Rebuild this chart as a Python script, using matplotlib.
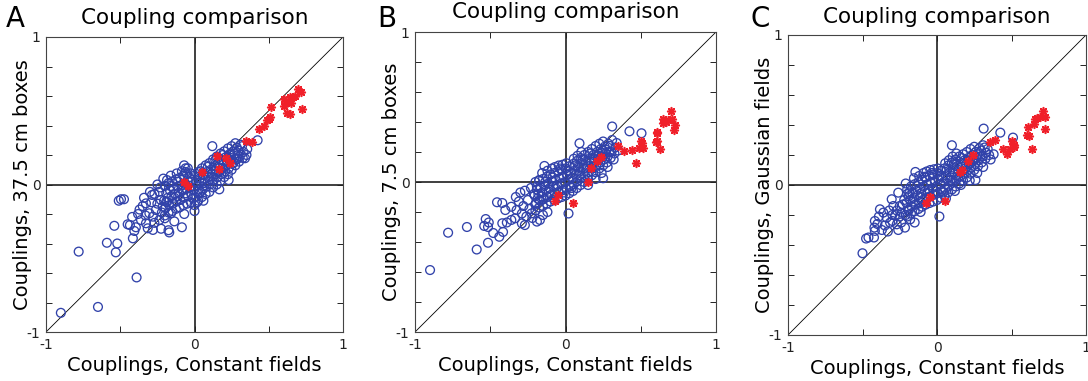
import matplotlib
matplotlib.use('Agg')
import matplotlib.pyplot as plt

# ---- data: (constant-field coupling, other coupling) ----
a_blue = [
    (-0.90, -0.87), (-0.65, -0.83), (-0.39, -0.63), (-0.78, -0.455), (-0.59, -0.395),
    (-0.52, -0.40), (-0.53, -0.46), (-0.54, -0.28), (-0.51, -0.11), (-0.495, -0.10),
    (-0.475, -0.10), (-0.415, -0.365), (-0.45, -0.27), (-0.435, -0.275), (-0.42, -0.22),
    (-0.405, -0.315), (-0.395, -0.29), (-0.225, -0.30), (-0.175, -0.31), (-0.17, -0.325),
    (-0.085, -0.29), (-0.136, -0.25), (-0.069, -0.20), (0.0, -0.18), (0.425, 0.30),
    (0.12, 0.26), (0.34, 0.178), (0.167, -0.033), (0.017, -0.12),
    (-0.349, -0.146), (-0.327, -0.128), (-0.286, -0.071), (-0.27, -0.064), (-0.237, -0.049),
    (-0.226, -0.105), (-0.304, -0.195), (-0.28, -0.218), (-0.26, -0.173), (-0.327, -0.263),
    (-0.315, -0.297), (-0.36, -0.241), (-0.214, -0.15), (-0.19, -0.116), (-0.158, -0.195),
    (-0.2, -0.229), (-0.237, -0.241), (-0.28, -0.308), (-0.38, -0.20), (-0.37, -0.17),
    (-0.34, -0.09), (-0.30, -0.05), (-0.25, 0.0), (-0.21, 0.04), (-0.23, -0.02),
    (-0.29, -0.12), (-0.25, -0.13), (-0.27, -0.26), (-0.22, -0.19), (-0.33, -0.21),
    (-0.20, -0.21), (-0.195, -0.16), (-0.205, -0.11), (-0.19, -0.06), (-0.20, -0.01),
    (-0.175, -0.19), (-0.17, -0.14), (-0.18, -0.09), (-0.165, -0.04), (-0.175, 0.01), (-0.185, 0.03),
    (-0.15, -0.18), (-0.145, -0.13), (-0.155, -0.08), (-0.14, -0.03), (-0.15, 0.02), (-0.16, 0.06),
    (-0.125, -0.165), (-0.12, -0.115), (-0.13, -0.065), (-0.115, -0.015), (-0.125, 0.035), (-0.12, 0.075),
    (-0.10, -0.155), (-0.095, -0.105), (-0.105, -0.055), (-0.09, -0.005), (-0.10, 0.045), (-0.085, 0.09),
    (-0.075, -0.14), (-0.07, -0.09), (-0.08, -0.04), (-0.065, 0.01), (-0.075, 0.06), (-0.06, 0.11), (-0.07, 0.13),
    (-0.05, -0.13), (-0.045, -0.08), (-0.055, -0.03), (-0.04, 0.02), (-0.05, 0.07), (-0.045, 0.11),
    (-0.025, -0.12), (-0.02, -0.07), (-0.03, -0.02), (-0.015, 0.03), (-0.025, 0.075),
    (0.0, -0.14), (0.005, -0.085), (-0.005, -0.035), (0.01, 0.015), (0.0, 0.06),
    (0.025, -0.11), (0.03, -0.06), (0.02, -0.01), (0.035, 0.04), (0.025, 0.085),
    (0.05, -0.085), (0.055, -0.035), (0.045, 0.015), (0.06, 0.065), (0.05, 0.11),
    (0.075, -0.065), (0.08, -0.015), (0.07, 0.035), (0.085, 0.085), (0.075, 0.13),
    (0.10, -0.05), (0.105, 0.0), (0.095, 0.05), (0.11, 0.10), (0.10, 0.145),
    (0.125, -0.02), (0.13, 0.03), (0.12, 0.075), (0.135, 0.125), (0.125, 0.17),
    (0.15, 0.0), (0.155, 0.05), (0.145, 0.095), (0.16, 0.145), (0.15, 0.19),
    (0.175, 0.025), (0.18, 0.07), (0.17, 0.115), (0.185, 0.165), (0.175, 0.21),
    (0.20, 0.05), (0.205, 0.09), (0.195, 0.135), (0.21, 0.185), (0.20, 0.225),
    (0.225, 0.07), (0.23, 0.11), (0.22, 0.155), (0.235, 0.20), (0.225, 0.245),
    (0.25, 0.10), (0.255, 0.14), (0.245, 0.18), (0.26, 0.225), (0.25, 0.26),
    (0.275, 0.13), (0.28, 0.17), (0.27, 0.21), (0.285, 0.25), (0.275, 0.28),
    (0.30, 0.155), (0.305, 0.19), (0.295, 0.23), (0.31, 0.27),
    (0.325, 0.18), (0.33, 0.22), (0.32, 0.26), (0.35, 0.20), (0.355, 0.24),
    (-0.11, -0.08), (-0.06, -0.06), (0.04, -0.05), (0.09, 0.02), (0.14, 0.07),
    (0.19, 0.11), (0.24, 0.16), (0.29, 0.20), (0.06, -0.11), (0.23, 0.03),
    (-0.135, -0.09), (-0.085, -0.03), (-0.035, 0.05), (0.015, -0.05), (0.065, 0.01),
    (0.115, 0.055), (0.165, 0.09), (0.215, 0.13), (0.265, 0.15), (-0.185, -0.12),
    (-0.16, -0.01), (-0.11, 0.02), (-0.06, 0.085), (-0.01, -0.095), (0.04, 0.09),
    (0.09, 0.12), (0.14, 0.165), (0.19, 0.2), (0.24, 0.21), (0.29, 0.175),
]
a_red = [
    (0.72, 0.625), (0.70, 0.645), (0.68, 0.60), (0.66, 0.595), (0.645, 0.59),
    (0.605, 0.58), (0.615, 0.555), (0.605, 0.53), (0.65, 0.55), (0.62, 0.487),
    (0.64, 0.476), (0.726, 0.512), (0.515, 0.527), (0.51, 0.46), (0.49, 0.437),
    (0.50, 0.444), (0.468, 0.40), (0.436, 0.378), (0.385, 0.29), (0.35, 0.295),
    (0.24, 0.148), (0.21, 0.178), (0.154, 0.193), (0.167, 0.103), (0.048, 0.083),
    (-0.069, 0.017), (-0.046, -0.01),
]

b_blue = [
    (-0.90, -0.587), (-0.78, -0.338), (-0.655, -0.30), (-0.59, -0.45), (-0.515, -0.405),
    (-0.53, -0.247), (-0.51, -0.27), (-0.54, -0.293), (-0.515, -0.30), (-0.48, -0.34),
    (-0.44, -0.365), (-0.415, -0.333), (-0.42, -0.275), (-0.39, -0.27), (-0.455, -0.135),
    (-0.42, -0.14), (-0.40, -0.187), (0.02, -0.21), (0.31, 0.37), (0.425, 0.338),
    (0.505, 0.325), (0.25, 0.025), (0.093, 0.258), (-0.14, 0.107),
    (-0.30, -0.07), (-0.27, -0.058), (-0.36, -0.165), (-0.325, -0.187), (-0.36, -0.253),
    (-0.335, -0.242), (-0.29, -0.276), (-0.27, -0.287), (-0.19, -0.264), (-0.17, -0.253),
    (-0.225, -0.209), (-0.175, 0.013), (-0.31, -0.13), (-0.28, -0.16), (-0.25, -0.12),
    (-0.24, -0.18), (-0.21, -0.08), (-0.20, -0.15), (-0.29, -0.21), (-0.26, -0.23),
    (-0.22, -0.24), (-0.33, -0.10), (-0.23, -0.04), (-0.19, -0.03), (-0.12, -0.20), (-0.15, -0.22),
    (-0.20, -0.19), (-0.195, -0.14), (-0.205, -0.09), (-0.19, -0.05), (-0.20, 0.0),
    (-0.175, -0.17), (-0.17, -0.125), (-0.18, -0.08), (-0.165, -0.035), (-0.175, 0.01),
    (-0.15, -0.16), (-0.145, -0.115), (-0.155, -0.07), (-0.14, -0.025), (-0.15, 0.02), (-0.155, 0.06),
    (-0.125, -0.145), (-0.12, -0.10), (-0.13, -0.055), (-0.115, -0.01), (-0.125, 0.035), (-0.12, 0.075),
    (-0.10, -0.13), (-0.095, -0.085), (-0.105, -0.04), (-0.09, 0.005), (-0.10, 0.05), (-0.09, 0.09),
    (-0.075, -0.12), (-0.07, -0.075), (-0.08, -0.03), (-0.065, 0.015), (-0.075, 0.06), (-0.07, 0.10),
    (-0.05, -0.11), (-0.045, -0.065), (-0.055, -0.02), (-0.04, 0.025), (-0.05, 0.07), (-0.045, 0.11),
    (-0.025, -0.10), (-0.02, -0.055), (-0.03, -0.01), (-0.015, 0.035), (-0.025, 0.08), (-0.02, 0.115),
    (0.0, -0.09), (0.005, -0.045), (-0.005, 0.0), (0.01, 0.045), (0.0, 0.09), (0.005, 0.125),
    (0.025, -0.075), (0.03, -0.03), (0.02, 0.015), (0.035, 0.06), (0.025, 0.105),
    (0.05, -0.06), (0.055, -0.015), (0.045, 0.03), (0.06, 0.075), (0.05, 0.12), (0.055, 0.155),
    (0.075, -0.04), (0.08, 0.005), (0.07, 0.05), (0.085, 0.095), (0.075, 0.14), (0.08, 0.175),
    (0.10, -0.02), (0.105, 0.025), (0.095, 0.07), (0.11, 0.115), (0.10, 0.16), (0.105, 0.20),
    (0.125, 0.0), (0.13, 0.045), (0.12, 0.09), (0.135, 0.135), (0.125, 0.18),
    (0.15, 0.02), (0.155, 0.065), (0.145, 0.11), (0.16, 0.155), (0.15, 0.20),
    (0.175, 0.045), (0.18, 0.09), (0.17, 0.135), (0.185, 0.18), (0.175, 0.22),
    (0.20, 0.065), (0.205, 0.11), (0.195, 0.155), (0.21, 0.20), (0.20, 0.24),
    (0.225, 0.09), (0.23, 0.13), (0.22, 0.175), (0.235, 0.22), (0.225, 0.255),
    (0.25, 0.11), (0.255, 0.15), (0.245, 0.195), (0.26, 0.235), (0.25, 0.27),
    (0.275, 0.13), (0.28, 0.17), (0.27, 0.215), (0.285, 0.255),
    (0.30, 0.16), (0.305, 0.20), (0.295, 0.24), (0.31, 0.28), (0.325, 0.19), (0.33, 0.23),
    (0.20, 0.02), (0.24, 0.06), (0.28, 0.10), (0.32, 0.15), (0.15, -0.02), (0.35, 0.21), (0.34, 0.26),
    (-0.16, -0.095), (-0.11, -0.065), (-0.06, -0.045), (-0.01, -0.07), (0.04, -0.04),
    (0.09, 0.045), (0.14, 0.09), (0.19, 0.135), (0.24, 0.17), (0.29, 0.2),
    (-0.135, 0.0), (-0.085, 0.03), (-0.035, 0.09), (0.015, 0.075), (0.065, 0.11),
    (0.115, 0.15), (0.165, 0.19), (0.215, 0.15), (0.265, 0.19), (-0.185, -0.11),
]
b_red = [
    (0.70, 0.475), (0.65, 0.418), (0.665, 0.40), (0.68, 0.413), (0.71, 0.418),
    (0.65, 0.395), (0.727, 0.38), (0.72, 0.347), (0.605, 0.335), (0.61, 0.325),
    (0.60, 0.27), (0.61, 0.275), (0.63, 0.218), (0.50, 0.275), (0.51, 0.258),
    (0.515, 0.23), (0.487, 0.225), (0.44, 0.213), (0.39, 0.207), (0.47, 0.13),
    (0.35, 0.24), (0.235, 0.165), (0.21, 0.142), (0.17, 0.095), (0.15, 0.002),
    (-0.05, -0.087), (-0.07, -0.125), (0.05, -0.14),
]

c_blue = [
    (-0.50, -0.455), (-0.476, -0.357), (-0.46, -0.35), (-0.423, -0.35), (-0.42, -0.284),
    (-0.417, -0.306), (-0.417, -0.24), (0.016, -0.21), (0.313, 0.376), (0.425, 0.349),
    (0.51, 0.316), (0.258, 0.033), (0.10, 0.265), (-0.145, 0.087),
    (-0.383, -0.162), (-0.36, -0.184), (-0.338, -0.218), (-0.304, -0.095), (-0.26, -0.051),
    (-0.315, -0.251), (-0.27, -0.262), (-0.215, -0.284), (-0.18, -0.229), (-0.293, -0.14),
    (-0.237, -0.184), (-0.40, -0.26), (-0.37, -0.30), (-0.39, -0.21), (-0.35, -0.27),
    (-0.33, -0.31), (-0.28, -0.20), (-0.25, -0.14), (-0.22, -0.10), (-0.20, -0.06),
    (-0.24, -0.25), (-0.32, -0.17), (-0.30, -0.24), (-0.19, -0.17), (-0.15, -0.25),
    (-0.11, -0.18), (-0.26, -0.30),
    (-0.20, -0.21), (-0.195, -0.165), (-0.205, -0.12), (-0.19, -0.075), (-0.20, -0.03), (-0.21, 0.01),
    (-0.175, -0.19), (-0.17, -0.145), (-0.18, -0.10), (-0.165, -0.055), (-0.175, -0.01),
    (-0.15, -0.175), (-0.145, -0.13), (-0.155, -0.085), (-0.14, -0.04), (-0.15, 0.005), (-0.155, 0.045),
    (-0.125, -0.16), (-0.12, -0.115), (-0.13, -0.07), (-0.115, -0.025), (-0.125, 0.02), (-0.12, 0.06),
    (-0.10, -0.145), (-0.095, -0.10), (-0.105, -0.055), (-0.09, -0.01), (-0.10, 0.035), (-0.09, 0.08),
    (-0.075, -0.13), (-0.07, -0.085), (-0.08, -0.04), (-0.065, 0.005), (-0.075, 0.05), (-0.07, 0.09),
    (-0.05, -0.12), (-0.045, -0.075), (-0.055, -0.03), (-0.04, 0.015), (-0.05, 0.06), (-0.045, 0.10),
    (-0.025, -0.11), (-0.02, -0.065), (-0.03, -0.02), (-0.015, 0.025), (-0.025, 0.07), (-0.02, 0.105),
    (0.0, -0.10), (0.005, -0.055), (-0.005, -0.01), (0.01, 0.035), (0.0, 0.08), (0.005, 0.11),
    (0.025, -0.085), (0.03, -0.04), (0.02, 0.005), (0.035, 0.05), (0.025, 0.095),
    (0.05, -0.07), (0.055, -0.025), (0.045, 0.02), (0.06, 0.065), (0.05, 0.11), (0.055, 0.145),
    (0.075, -0.05), (0.08, -0.005), (0.07, 0.04), (0.085, 0.085), (0.075, 0.13), (0.08, 0.165),
    (0.10, -0.03), (0.105, 0.015), (0.095, 0.06), (0.11, 0.105), (0.10, 0.15), (0.105, 0.19),
    (0.125, -0.01), (0.13, 0.035), (0.12, 0.08), (0.135, 0.125), (0.125, 0.17), (0.13, 0.21),
    (0.15, 0.01), (0.155, 0.055), (0.145, 0.10), (0.16, 0.145), (0.15, 0.19),
    (0.175, 0.03), (0.18, 0.075), (0.17, 0.12), (0.185, 0.165), (0.175, 0.205),
    (0.20, 0.05), (0.205, 0.095), (0.195, 0.14), (0.21, 0.18), (0.20, 0.22),
    (0.225, 0.075), (0.23, 0.115), (0.22, 0.16), (0.235, 0.20), (0.225, 0.24),
    (0.25, 0.10), (0.255, 0.14), (0.245, 0.18), (0.26, 0.22), (0.25, 0.255),
    (0.275, 0.125), (0.28, 0.165), (0.27, 0.205), (0.285, 0.245),
    (0.30, 0.15), (0.305, 0.19), (0.295, 0.23), (0.31, 0.265),
    (0.325, 0.175), (0.33, 0.215), (0.32, 0.25),
    (0.35, 0.20), (0.34, 0.24), (0.36, 0.17), (0.22, 0.03), (0.27, 0.08),
    (0.31, 0.12), (0.16, 0.0), (0.12, -0.04), (0.06, -0.09), (0.38, 0.205),
    (-0.16, -0.11), (-0.11, -0.08), (-0.06, -0.055), (-0.01, -0.04), (0.04, -0.05),
    (0.09, 0.035), (0.14, 0.075), (0.19, 0.11), (0.24, 0.16), (0.29, 0.19),
    (-0.135, -0.005), (-0.085, 0.055), (-0.035, 0.08), (0.015, 0.06), (0.065, 0.1),
    (0.115, 0.14), (0.165, 0.18), (0.215, 0.14), (0.265, 0.18), (-0.185, -0.05),
    (-0.23, -0.13), (-0.27, -0.17), (-0.25, -0.21), (-0.21, -0.2), (-0.3, -0.2),
]
c_red = [
    (0.711, 0.493), (0.655, 0.438), (0.67, 0.449), (0.694, 0.451), (0.727, 0.451),
    (0.65, 0.409), (0.727, 0.376), (0.61, 0.389), (0.604, 0.331), (0.615, 0.327),
    (0.637, 0.243), (0.503, 0.293), (0.514, 0.27), (0.52, 0.255), (0.488, 0.243),
    (0.47, 0.21), (0.44, 0.238), (0.387, 0.30), (0.354, 0.289), (0.24, 0.198),
    (0.208, 0.16), (0.168, 0.103), (0.157, 0.086), (-0.05, -0.078), (-0.073, -0.118),
    (0.052, -0.104),
]

blue_sets = [a_blue, b_blue, c_blue]
red_sets = [a_red, b_red, c_red]
panel_letters = ['A', 'B', 'C']
title = 'Coupling comparison'
xlabel = 'Couplings, Constant fields'
ylabels = ['Couplings, 37.5 cm boxes', 'Couplings, 7.5 cm boxes', 'Couplings, Gaussian fields']

W, H = 1088, 381
# axes boxes in pixels: left, top, right, bottom
boxes = [(46, 37, 343, 332), (415, 32, 716, 332), (788, 35, 1086, 335)]
title_base = [24, 18, 23]
letter_pos = [(6, 27), (377, 27), (750, 27)]

fig = plt.figure(figsize=(W / 100, H / 100), dpi=100)

for i in range(3):
    l, t, r, b = boxes[i]
    ax = fig.add_axes([l / W, 1 - b / H, (r - l) / W, (b - t) / H])
    ax.plot([-1, 1], [-1, 1], color='black', lw=0.6, zorder=1)
    ax.axhline(0, color='#303030', lw=1.3, zorder=1)
    ax.axvline(0, color='#303030', lw=1.3, zorder=1)

    bx, by = zip(*blue_sets[i])
    ax.scatter(bx, by, s=40, facecolors='none', edgecolors='#3142aa',
               linewidths=0.95, zorder=2)
    rx, ry = zip(*red_sets[i])
    ax.scatter(rx, ry, s=30, marker=(8, 2, 0), color='#f0202a',
               linewidths=1.2, zorder=3)

    ax.set_xlim(-1, 1)
    ax.set_ylim(-1, 1)
    ax.set_xticks([-1, -0.5, 0, 0.5, 1])
    ax.set_xticklabels(['-1', '', '0', '', '1'])
    ax.set_yticks([-1, -0.8, -0.6, -0.4, -0.2, 0, 0.2, 0.4, 0.6, 0.8, 1])
    ax.set_yticklabels(['-1', '', '', '', '', '0', '', '', '', '', '1'])
    ax.tick_params(direction='in', top=True, right=True, length=4, width=0.7,
                   labelsize=10, pad=4, colors='#222222')
    for sp in ax.spines.values():
        sp.set_color('#444444')
        sp.set_linewidth(0.8)

    ax.set_xlabel(xlabel, fontsize=14, labelpad=3)
    ax.set_ylabel(ylabels[i], fontsize=14, labelpad=-4)

    fig.text((l + r) / 2 / W, 1 - title_base[i] / H, title, fontsize=15.5,
             ha='center', va='baseline')
    fig.text(letter_pos[i][0] / W, 1 - letter_pos[i][1] / H, panel_letters[i],
             fontsize=20, ha='left', va='baseline')

fig.savefig('out.png', dpi=100)
